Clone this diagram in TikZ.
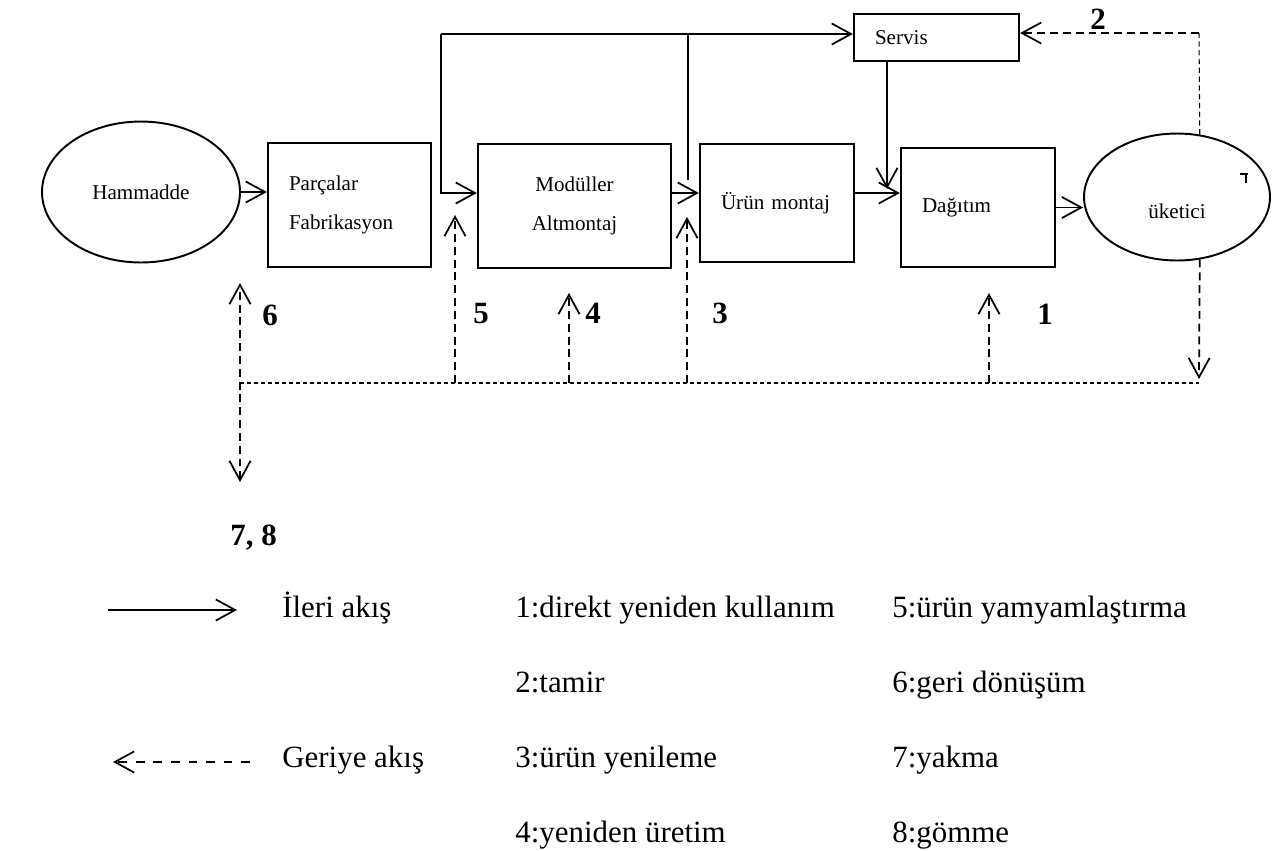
\documentclass[tikz,border=0pt]{standalone}
\usepackage{fontspec}
\setmainfont{Liberation Serif}
\usetikzlibrary{arrows.meta, shapes.geometric}

\begin{document}
\begin{tikzpicture}[x=0.02cm, y=-0.02cm,
		>={Straight Barb[length=11pt, width=12pt]},
		box/.style={draw, line width=1.3pt, font=\fontsize{12}{22}\selectfont},
		leftbox/.style={box, align=left, inner xsep=0.42cm, text width=#1},
		blob/.style={draw, ellipse, line width=1.1pt, inner sep=0pt, font=\fontsize{12}{14}\selectfont},
		flow/.style={line width=1pt, ->},
		retflow/.style={line width=1pt, dash pattern=on 4.5pt off 2.8pt, ->},
		bus/.style={line width=0.6pt, dash pattern=on 2.3pt off 1.7pt},
		num/.style={anchor=base west, inner sep=0pt, font=\fontsize{17.6}{18}\selectfont\bfseries},
		legtext/.style={anchor=base west, inner sep=0pt, font=\fontsize{17.6}{18}\selectfont}]
	\useasboundingbox (0,0) rectangle (1278,850);

	% stations
	\node[blob, minimum width=3.96cm, minimum height=2.82cm] (ham) at (141,192) {Hammadde};
	\node[leftbox=2.42cm, minimum height=2.48cm] (parca) at (349.5,205) {Parçalar\\Fabrikasyon};
	\node[box, align=center, minimum width=3.86cm, minimum height=2.48cm] (modul) at (574.5,206) {Modüller\\Altmontaj};
	\node[leftbox=2.24cm, minimum height=2.36cm] (urun) at (777,203) {Ürün montaj};
	\node[leftbox=2.46cm, minimum height=0.94cm] (servis) at (936.5,37.5) {Servis};
	\node[leftbox=2.24cm, minimum height=2.38cm] (dagitim) at (978,207.5) {Dağıtım};
	\node[blob, minimum width=3.72cm, minimum height=2.54cm] (tuk) at (1177,197) {};
	\node[anchor=base, font=\fontsize{12}{14}\selectfont] (tukname) at (1177,218) {üketici};
	\draw[line width=0.8pt] (1240,174) -- (1248,174) (1246,174) -- (1246,183);

	% forward flow
	\coordinate (split) at (441,34);
	\coordinate (feed) at (441,193);
	\coordinate (tap) at (688,34);
	\coordinate (tapend) at (688,180);
	\coordinate (drop) at (887,189);
	\draw[flow] (ham.east) -- (ham.east -| parca.west);
	\draw[flow] (split) -- (feed) -- (feed -| modul.west);
	\draw[flow] (split) -- (split -| servis.west);
	\draw[line width=0.6pt] (tap) -- (tapend);
	\draw[flow] (feed -| modul.east) -- (feed -| urun.west);
	\draw[flow] (feed -| urun.east) -- (feed -| dagitim.west);
	\draw[flow] (drop |- servis.south) -- (drop);
	\draw[flow] (dagitim.east) -- (dagitim.east -| tuk.west);

	% return flow
	\coordinate (ret) at (1199,33);
	\coordinate (sink) at (1199,379);
	\coordinate (busL) at (240,383);
	\coordinate (in6) at (240,283);
	\coordinate (out78) at (240,482);
	\coordinate (in5) at (455,215);
	\coordinate (in4) at (569,293);
	\coordinate (in3) at (687,217);
	\coordinate (in1) at (989,293);
	\draw[line width=0.6pt, dash pattern=on 3pt off 2pt] (tuk.70) -- (ret);
	\draw[retflow] (ret) -- (ret -| servis.east);
	\draw[retflow] (tuk.-70) -- (sink);
	\draw[bus] (busL) -- (sink |- busL);
	\draw[retflow, <->] (out78) -- (in6);
	\foreach \c in {in5, in4, in3, in1}
		\draw[retflow] (\c |- busL) -- (\c);

	% numbers
	\node[num] (n2) at (1090,29) {2};
	\node[num] (n6) at (262,325) {6};
	\node[num] (n5) at (473,323) {5};
	\node[num] (n4) at (585,323) {4};
	\node[num] (n3) at (712,323) {3};
	\node[num] (n1) at (1037,324) {1};
	\node[num] (n78) at (230,545) {7, 8};

	% legend
	\coordinate (fwdtail) at (108,610);
	\coordinate (fwdtip) at (237,610);
	\coordinate (bwdtail) at (250,762);
	\coordinate (bwdtip) at (113,762);
	\draw[flow] (fwdtail) -- (fwdtip);
	\draw[line width=1pt, dash pattern=on 5pt off 5pt, ->] (bwdtail) -- (bwdtip);
	\node[legtext] (fwd) at (282,617) {İleri akış};
	\node[legtext] (bwd) at (282,767) {Geriye akış};
	\foreach \i/\txt in {1/direkt yeniden kullanım, 2/tamir, 3/ürün yenileme, 4/yeniden üretim}
		\node[legtext] (key\i) at (515,542+75*\i) {\i:\txt};
	\foreach \i/\txt in {5/ürün yamyamlaştırma, 6/geri dönüşüm, 7/yakma, 8/gömme}
		\node[legtext] (key\i) at (892,242+75*\i) {\i:\txt};
\end{tikzpicture}
\end{document}
